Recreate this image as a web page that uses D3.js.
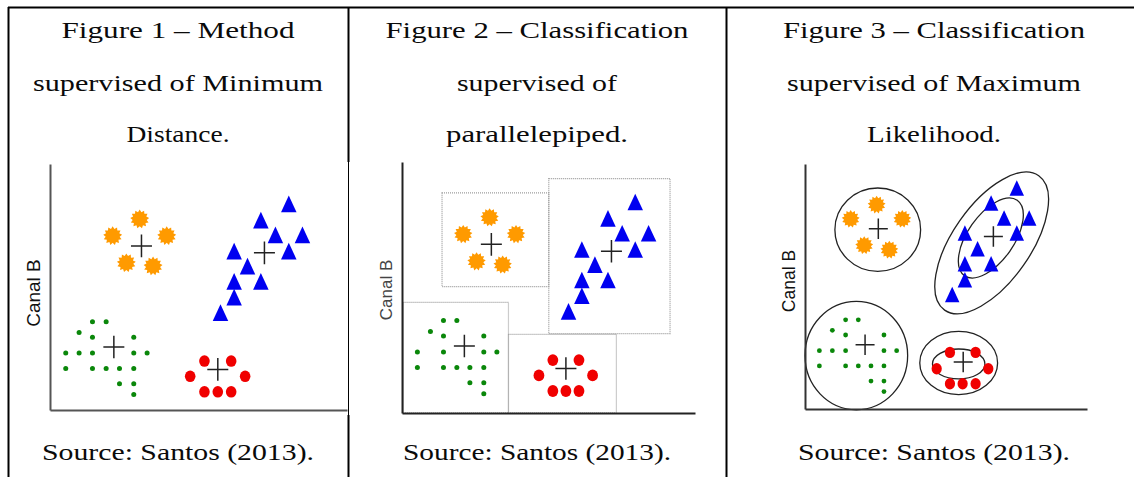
<!DOCTYPE html>
<html>
<head>
<meta charset="utf-8">
<script src="https://cdn.jsdelivr.net/npm/d3@7"></script>
<style>
  body { margin: 0; background: #fff; }
  .caption { font-family: "Liberation Serif", "Times New Roman", serif; font-size: 23.5px; fill: #0a0a0a; }
  .axis-label { font-family: "Liberation Sans", Arial, sans-serif; }
</style>
</head>
<body>
<svg id="chart" width="1134" height="477"></svg>
<script>
// samples, in (Canal A, Canal B) units 0-100
// figures 1 and 2 are the same scatter, figure 3 is a redrawn one
const orangeFig12 = [[30.2, 77.6], [21.1, 70.8], [39.3, 70.8], [25.7, 59.8], [34.7, 58.5]];
const blueFig12 = [[80.4, 83.8], [71.0, 77.2], [75.9, 71.2], [85.0, 71.2], [62.0, 64.6], [80.4, 64.6],
                   [66.5, 58.5], [62.0, 52.3], [71.0, 52.3], [62.0, 45.9], [57.4, 39.6]];
const greenFig1 = [[14.3, 35.9], [18.9, 35.9], [9.8, 31.5], [14.3, 29.6], [28.2, 29.6],
                   [5.3, 23.2], [9.8, 23.2], [14.3, 23.2], [28.2, 23.2], [32.7, 23.2],
                   [5.3, 16.9], [14.3, 16.9], [18.9, 16.9], [23.4, 16.9], [28.2, 16.9],
                   [23.4, 10.7], [28.2, 10.7], [28.2, 6.3]];
const greenFig2 = [[14.3, 35.9], [18.9, 35.9], [9.8, 31.5], [14.3, 29.6], [28.2, 29.6],
                   [5.3, 23.2], [14.3, 23.2], [28.2, 23.2], [32.7, 23.2],
                   [5.3, 16.9], [14.3, 16.9], [18.9, 16.9], [23.4, 16.9], [28.2, 16.9],
                   [23.4, 10.7], [28.2, 10.7], [28.2, 6.3]];
const redFig12 = [[52.0, 19.9], [61.0, 19.9], [47.2, 13.7], [65.7, 13.7], [52.0, 7.4], [56.5, 7.4], [61.0, 7.4]];
const meansFig12 = [[30.8, 66.7], [72.2, 63.9], [21.5, 25.6], [56.5, 16.5]];

const orangeFig3 = [[25.4, 83.4], [16.2, 77.6], [34.5, 77.6], [21.0, 66.8], [29.9, 65.0]];
const blueFig3 = [[75.1, 90.2], [66.0, 84.1], [70.6, 78.0], [79.5, 78.0], [56.7, 71.8], [75.1, 71.8],
                  [61.2, 65.4], [56.7, 59.3], [66.0, 59.3], [56.7, 52.8], [52.2, 46.7]];
const greenFig3 = [[14.4, 36.4], [18.9, 36.4], [9.7, 32.1], [14.4, 30.2], [28.0, 30.2],
                   [5.1, 23.8], [9.7, 23.8], [14.4, 23.8], [28.0, 23.8], [32.5, 23.8],
                   [5.1, 17.6], [14.4, 17.6], [18.9, 17.6], [23.4, 17.6], [28.0, 17.6],
                   [23.4, 11.4], [28.0, 11.4], [28.0, 7.1]];
const redFig3 = [[51.4, 23.1], [60.5, 23.1], [46.7, 16.4], [65.0, 16.4], [51.4, 10.3], [55.9, 10.3], [60.5, 10.3]];
const meansFig3 = [[26.0, 73.6], [66.8, 70.4], [21.3, 26.2], [56.1, 19.2]];

// parallelepiped decision boxes of figure 2: [x0, x1, y0, y1]
const boxesFig2 = [[13.8, 50.6, 49.6, 87.5], [50.6, 92.4, 30.6, 93.3], [0.5, 36.7, -1.5, 43.2], [36.7, 73.9, -1.5, 30.3]];

// equal-probability contours of figure 3: [cx, cy, rx, ry, angle]
const contoursFig3 = [[25.8, 73.2, 15.2, 17.0, 0], [18.2, 21.8, 18.2, 22.1, 0],
                      [54.5, 18.8, 13.8, 12.9, 0], [54.5, 18.4, 9.3, 6.1, 0],
                      [66.2, 67.8, 29.1, 13.8, -55], [65.9, 69.8, 16.3, 8.2, -55]];

const captionLines = [
  ['Figure 1 – Method', 'supervised of Minimum', 'Distance.'],
  ['Figure 2 – Classification', 'supervised of', 'parallelepiped.'],
  ['Figure 3 – Classification', 'supervised of Maximum', 'Likelihood.']
];
const sourceNote = 'Source: Santos (2013).';
const yAxisLabel = 'Canal B';

const svg = d3.select('#chart');

/* table frame */
const colCenters = [178, 537, 934];
const frame = svg.append('g').attr('stroke', '#000').attr('fill', 'none');
frame.append('path').attr('d', 'M8,7.5H1134').attr('stroke-width', 2);
frame.append('path').attr('d', 'M8.5,7V477').attr('stroke-width', 2);
frame.append('path').attr('d', 'M348.5,7V162M348.5,415V477').attr('stroke-width', 2);
frame.append('path').attr('d', 'M348.5,162V415').attr('stroke-width', 1);
frame.append('path').attr('d', 'M726.5,7V477').attr('stroke-width', 2);

const captionWidths = [[233, 290, 103], [303, 160, 182], [302, 294, 134]];
const captionBaselines = [38, 91, 141.5];

captionLines.forEach((lines, i) => {
  lines.forEach((line, j) => {
    svg.append('text')
      .attr('class', 'caption')
      .attr('x', colCenters[i])
      .attr('y', captionBaselines[j])
      .attr('text-anchor', 'middle')
      .attr('textLength', captionWidths[i][j])
      .attr('lengthAdjust', 'spacingAndGlyphs')
      .text(line);
  });
  svg.append('text')
    .attr('class', 'caption')
    .attr('x', colCenters[i])
    .attr('y', 459.5)
    .attr('text-anchor', 'middle')
    .attr('textLength', [272, 268, 272][i])
    .attr('lengthAdjust', 'spacingAndGlyphs')
    .text(sourceNote);
});

/* symbol shapes */
const sunType = {
  draw(ctx, size) {
    const r = Math.sqrt(size) / 2, n = 13;
    for (let i = 0; i < 2 * n; i++) {
      const a = Math.PI * i / n;
      const rr = i % 2 ? r * 0.74 : r;
      const px = rr * Math.sin(a), py = -rr * Math.cos(a);
      if (i) ctx.lineTo(px, py); else ctx.moveTo(px, py);
    }
    ctx.closePath();
  }
};
const triType = {
  draw(ctx, size) {
    const s = Math.sqrt(size), h = s * 1.07;
    ctx.moveTo(0, -h / 2);
    ctx.lineTo(s / 2, h / 2);
    ctx.lineTo(-s / 2, h / 2);
    ctx.closePath();
  }
};
const crossType = {
  draw(ctx, size) {
    const r = Math.sqrt(size) / 2;
    ctx.moveTo(-r, 0); ctx.lineTo(r, 0);
    ctx.moveTo(0, -r * 1.08); ctx.lineTo(0, r * 1.08);
  }
};

const panels = [
  { xDomain: [0, 100], yDomain: [0, 100], xRange: [50, 347], yRange: [410, 164],
    axisColor: '#555', labelColor: '#111', labelSize: 19, labelPos: [33.5, 293],
    orange: orangeFig12, blue: blueFig12, green: greenFig1, red: redFig12, means: meansFig12,
    star: 19, tri: 15.5, dot: 2.5, redR: [5.3, 5.8], cross: 21 },
  { xDomain: [0, 101], yDomain: [-1.5, 100], xRange: [402, 695], yRange: [413, 162],
    axisColor: '#222', labelColor: '#444', labelSize: 17, labelPos: [386.5, 290],
    orange: orangeFig12, blue: blueFig12, green: greenFig2, red: redFig12, means: meansFig12,
    boxes: boxesFig2,
    star: 18.5, tri: 15.5, dot: 2.5, redR: [5.4, 5.9], cross: 21 },
  { xDomain: [0, 100], yDomain: [0, 100], xRange: [805, 1087], yRange: [409, 164],
    axisColor: '#333', labelColor: '#111', labelSize: 17.5, labelPos: [788.5, 281],
    orange: orangeFig3, blue: blueFig3, green: greenFig3, red: redFig3, means: meansFig3,
    contours: contoursFig3,
    star: 18, tri: 14.5, dot: 2.4, redR: [5.1, 5.7], cross: 19 }
];

const renderPanel = p => {
  const x = d3.scaleLinear().domain(p.xDomain).range(p.xRange);
  const y = d3.scaleLinear().domain(p.yDomain).range(p.yRange);
  const g = svg.append('g');

  if (p.boxes) {
    g.selectAll('.box').data(p.boxes)
      .enter().append('rect')
        .attr('class', 'box')
        .attr('x', d => x(d[0]))
        .attr('y', d => y(d[3]))
        .attr('width', d => x(d[1]) - x(d[0]))
        .attr('height', d => y(d[2]) - y(d[3]))
        .attr('fill', 'none')
        .attr('stroke', '#9a9a9a')
        .attr('stroke-width', 1.2)
        .attr('stroke-dasharray', '1,1');
  }

  if (p.contours) {
    g.selectAll('.contour').data(p.contours)
      .enter().append('ellipse')
        .attr('class', 'contour')
        .attr('transform', d => `translate(${x(d[0])},${y(d[1])}) rotate(${d[4]})`)
        .attr('rx', d => x(d[2]) - x(0))
        .attr('ry', d => d[4] ? x(d[3]) - x(0) : y(0) - y(d[3]))
        .attr('fill', 'none')
        .attr('stroke', '#222')
        .attr('stroke-width', 1.3);
  }

  const xAxisG = g.append('g')
    .attr('transform', `translate(0,${y(p.yDomain[0])})`)
    .call(d3.axisBottom(x).tickValues([]).tickSizeOuter(0));
  const yAxisG = g.append('g')
    .attr('transform', `translate(${x(p.xDomain[0])},0)`)
    .call(d3.axisLeft(y).tickValues([]).tickSizeOuter(0));
  [xAxisG, yAxisG].forEach(a => a.select('.domain')
    .attr('stroke', p.axisColor).attr('stroke-width', 2));

  g.append('text')
    .attr('class', 'axis-label')
    .attr('transform', `translate(${p.labelPos[0]},${p.labelPos[1]}) rotate(-90)`)
    .attr('text-anchor', 'middle')
    .attr('dominant-baseline', 'central')
    .attr('fill', p.labelColor)
    .style('font-size', p.labelSize + 'px')
    .text(yAxisLabel);

  g.selectAll('.green').data(p.green)
    .enter().append('circle')
      .attr('class', 'green')
      .attr('cx', d => x(d[0]))
      .attr('cy', d => y(d[1]))
      .attr('r', p.dot)
      .attr('fill', '#0a870a');

  g.selectAll('.red').data(p.red)
    .enter().append('ellipse')
      .attr('class', 'red')
      .attr('cx', d => x(d[0]))
      .attr('cy', d => y(d[1]))
      .attr('rx', p.redR[0])
      .attr('ry', p.redR[1])
      .attr('fill', '#f00000');

  g.selectAll('.orange').data(p.orange)
    .enter().append('path')
      .attr('class', 'orange')
      .attr('transform', d => `translate(${x(d[0])},${y(d[1])})`)
      .attr('d', d3.symbol().type(sunType).size(p.star * p.star))
      .attr('fill', '#ff9a00');

  g.selectAll('.blue').data(p.blue)
    .enter().append('path')
      .attr('class', 'blue')
      .attr('transform', d => `translate(${x(d[0])},${y(d[1])})`)
      .attr('d', d3.symbol().type(triType).size(p.tri * p.tri))
      .attr('fill', '#0000f0');

  g.selectAll('.mean').data(p.means)
    .enter().append('path')
      .attr('class', 'mean')
      .attr('transform', d => `translate(${x(d[0])},${y(d[1])})`)
      .attr('d', d3.symbol().type(crossType).size(p.cross * p.cross))
      .attr('fill', 'none')
      .attr('stroke', '#222')
      .attr('stroke-width', 1.5);
};

panels.forEach(renderPanel);
</script>
</body>
</html>
